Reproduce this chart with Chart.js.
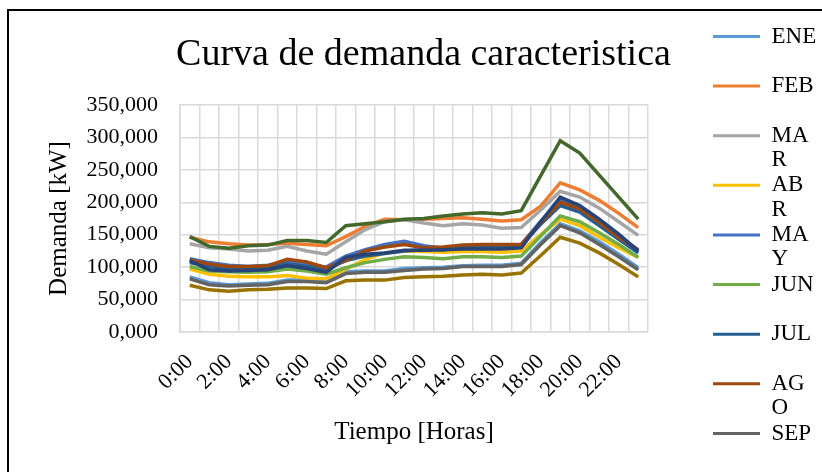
<!DOCTYPE html>
<html>
<head>
<meta charset="utf-8">
<script src="https://cdn.jsdelivr.net/npm/chart.js@4.4.1/dist/chart.umd.min.js"></script>
<style>
  html, body { margin: 0; padding: 0; background: #fff; overflow: hidden; }
  #frame { position: absolute; left: 7px; top: 9px; width: 1000px; height: 1000px;
           border-left: 2px solid #000; border-top: 2px solid #000; }
  #chart { position: absolute; left: 0; top: 0; }
</style>
</head>
<body>
<div id="frame"></div>
<canvas id="chart" width="822" height="472"></canvas>
<script>
const hours = ['0:00','1:00','2:00','3:00','4:00','5:00','6:00','7:00','8:00','9:00','10:00','11:00',
  '12:00','13:00','14:00','15:00','16:00','17:00','18:00','19:00','20:00','21:00','22:00','23:00'];

const months = ['ENE','FEB','MAR','ABR','MAY','JUN','JUL','AGO','SEP','OCT','NOV','DIC'];
const colors = ['#5B9BD5','#ED7D31','#A5A5A5','#FFC000','#4472C4','#70AD47',
  '#255E91','#9E480E','#636363','#997300','#264478','#43682B'];

// demanda por hora (kW)
const ene = [85,76,73,74,75,80,80,78,93,94,94,98,99,100,102,103,103,106,138,167,156,139,120,99];
const feb = [146,139,136,134,135,137,135,133,147,163,174,173,174,175,176,174,171,173,194,230,219,203,183,161];
const mar = [136,130,128,125,126,132,125,120,139,158,170,173,168,164,167,165,160,161,188,217,208,191,170,149];
const abr = [97,89,86,85,85,87,83,82,97,112,122,125,124,123,124,124,123,125,150,174,164,146,130,115];
const may = [113,107,103,101,103,109,104,100,117,127,135,140,133,129,132,134,133,135,171,203,192,169,146,125];
const jun = [101,94,93,92,93,97,94,89,99,107,112,116,115,113,116,116,115,117,148,179,170,153,135,115];
const jul = [107,101,98,99,99,105,101,97,110,117,121,125,127,127,130,131,131,134,166,195,185,164,143,122];
const ago = [111,105,101,101,102,112,108,99,110,125,131,135,130,131,134,135,135,135,168,200,190,169,146,127];
const sep = [82,73,71,72,73,78,78,76,90,92,92,95,97,98,101,101,101,104,135,164,153,135,116,96];
const oct = [72,65,63,65,66,68,68,67,79,80,80,84,85,86,88,89,88,91,118,146,137,122,104,85];
const nov = [110,96,94,95,96,102,98,92,115,120,122,126,126,127,128,128,128,130,170,208,195,174,151,125];
const dic = [147,132,129,133,134,141,141,138,164,167,170,174,175,179,182,184,182,187,241,295,276,242,208,174];

const series = [ene, feb, mar, abr, may, jun, jul, ago, sep, oct, nov, dic];

const FONT = 'Liberation Serif';
Chart.defaults.font.family = FONT;
Chart.defaults.color = '#000';

const datasets = series.map((data, i) => ({
  label: months[i],
  data,
  borderColor: colors[i],
  backgroundColor: colors[i],
  borderWidth: 3.5,
  pointRadius: 0,
  tension: 0,
  fill: false,
  yAxisID: 'y',
  order: series.length - i   // last series on top, like excel
}));

function legendLabels(chart) {
  const ctx = chart.ctx;
  ctx.save();
  ctx.font = '23px "' + FONT + '"';
  const items = chart.data.datasets.slice(0, 9).map((ds, i) => {
    const t = ds.label;
    const lines = ctx.measureText(t).width > 46 ? [t.slice(0, 2), t.slice(2)] : [t, ''];
    return {
      text: lines,
      fillStyle: ds.borderColor,
      strokeStyle: ds.borderColor,
      lineWidth: 0,
      hidden: false,
      fontColor: '#000',
      datasetIndex: i
    };
  });
  ctx.restore();
  return items;
}

new Chart(document.getElementById('chart').getContext('2d'), {
  type: 'line',
  data: { labels: hours, datasets },
  options: {
    responsive: false,
    animation: false,
    devicePixelRatio: 1,
    layout: { padding: { left: 25, right: 0, top: 24, bottom: 0 } },
    plugins: {
      title: {
        display: true,
        text: 'Curva de demanda caracteristica',
        color: '#000',
        font: { size: 38, weight: 'normal', family: FONT, lineHeight: 1.2 },
        padding: { top: 8.2, bottom: 27.2 }
      },
      legend: {
        position: 'right',
        align: 'start',
        maxWidth: 110,
        labels: {
          generateLabels: legendLabels,
          boxWidth: 47,
          boxHeight: 3,
          padding: 1,
          color: '#000',
          font: { size: 23, family: FONT, lineHeight: 1.057 }
        }
      },
      tooltip: { enabled: false }
    },
    scales: {
      x: {
        offset: true,
        grid: { offset: true, color: '#d9d9d9', lineWidth: 1.5, drawTicks: false },
        border: { color: '#d9d9d9', width: 1.5 },
        ticks: {
          autoSkip: false,
          minRotation: 45,
          maxRotation: 45,
          padding: 17,
          font: { size: 22, family: FONT },
          callback: (v, i) => (i % 2 === 0 ? hours[i] : '')
        },
        title: {
          display: true,
          text: 'Tiempo [Horas]',
          font: { size: 25, family: FONT, lineHeight: 1.2 },
          padding: { top: 0, bottom: 25 }
        },
        afterFit: s => { s.height = 140; }
      },
      y: {
        position: 'left',
        min: 0,
        max: 350,
        grid: { color: '#d9d9d9', lineWidth: 1.5, drawTicks: false },
        border: { color: '#d9d9d9', width: 1.5 },
        ticks: {
          stepSize: 50,
          padding: 22,
          font: { size: 22, family: FONT },
          callback: v => v.toFixed(3).replace('.', ',')
        },
        title: {
          display: true,
          text: 'Demanda [kW]',
          font: { size: 25, family: FONT, lineHeight: 1.2 },
          padding: { top: 19.5, bottom: 0 }
        },
        afterFit: s => { s.width = 155; }
      },
      gap: {
        position: 'right',
        grid: { display: false },
        border: { display: false },
        ticks: { display: false },
        afterFit: s => { s.width = 64; }
      }
    }
  }
});
</script>
</body>
</html>
